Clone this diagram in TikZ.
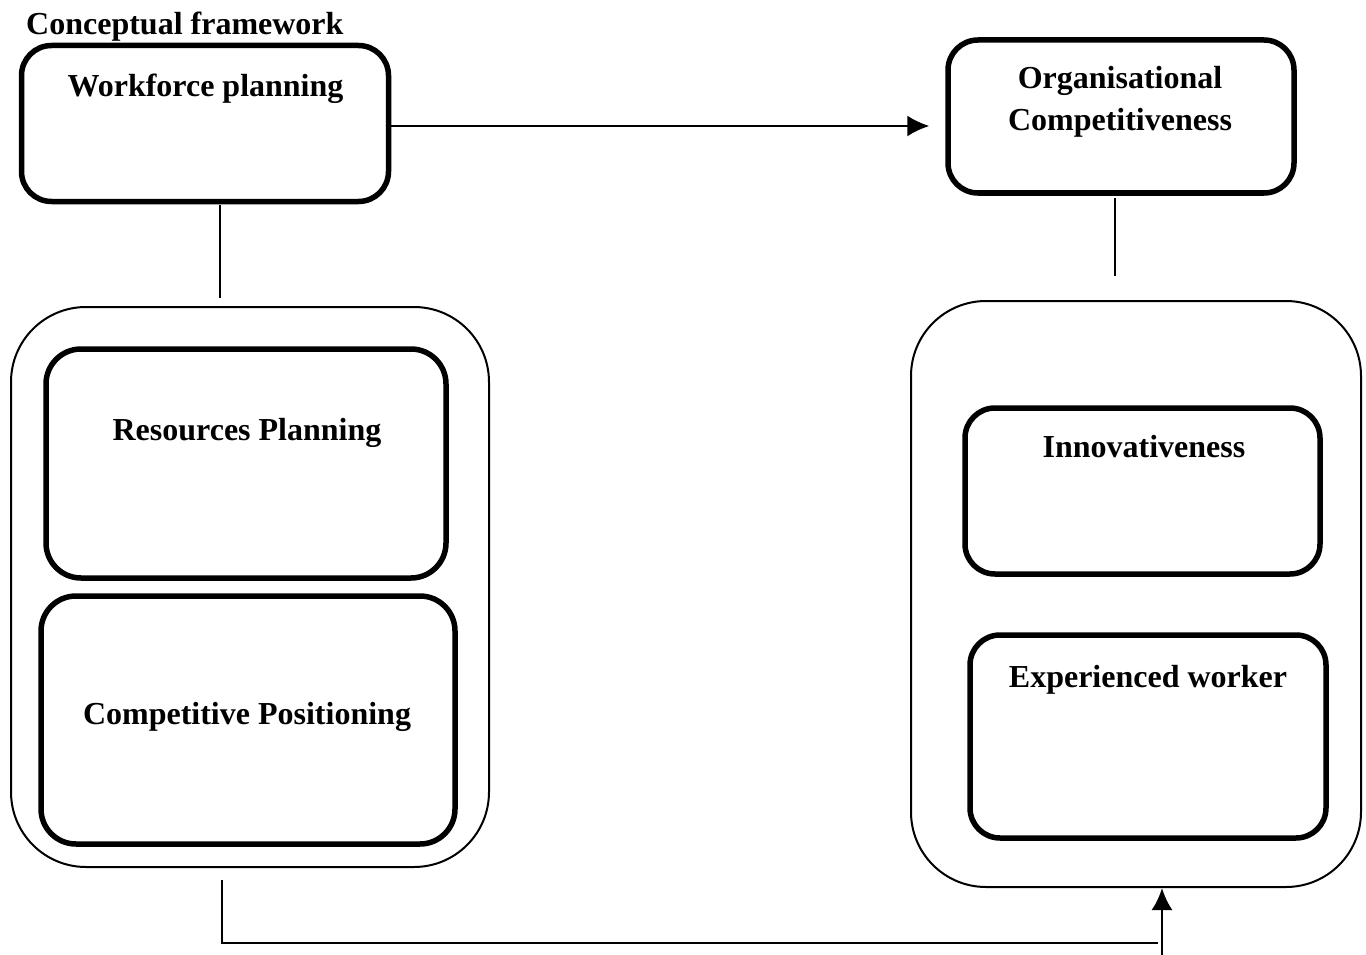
\documentclass[tikz,border=0pt]{standalone}
\usepackage{fontspec}
\setmainfont{Liberation Serif}
\usetikzlibrary{arrows.meta}
\tikzset{
  >={Latex[length=22pt,width=21pt]},
  heavybox/.style={draw, line width=5.5pt, rounded corners=30pt, inner sep=0pt},
  outerbox/.style={draw, line width=2pt, rounded corners=75pt, inner sep=0pt},
  txt/.style={anchor=base, font=\fontsize{32}{38}\selectfont\bfseries, inner sep=0pt}
}

\begin{document}
\begin{tikzpicture}[x=1pt,y=-1pt]
      \useasboundingbox (0,0) rectangle (1366,955);
      \node[txt, anchor=base west] (title) at (26,35) {Conceptual framework};
      \begin{scope}
        \node[heavybox, minimum width=367pt, minimum height=156pt] (wf) at (205,123.5) {};
        \node[heavybox, minimum width=346pt, minimum height=153pt] (org) at (1121,116.5) {};
        \node[outerbox, minimum width=478pt, minimum height=560pt] (lout) at (250,587) {};
        \node[heavybox, rounded corners=35pt, minimum width=400pt, minimum height=229pt] (res) at (246,463.5) {};
        \node[heavybox, rounded corners=35pt, minimum width=414pt, minimum height=248pt] (comp) at (248,720) {};
        \node[outerbox, minimum width=450pt, minimum height=586pt] (rout) at (1136,594) {};
        \node[heavybox, minimum width=355pt, minimum height=166pt] (inno) at (1142.5,491) {};
        \node[heavybox, minimum width=356pt, minimum height=203pt] (exp) at (1148,736.5) {};
      \end{scope}
      \node[txt] (wft) at (205.5,97) {Workforce planning};
      \node[txt] (orgt) at (1120,89) {Organisational};
      \node[txt] (orgt2) at (1120,131) {Competitiveness};
      \node[txt] (rest) at (247,440) {Resources Planning};
      \node[txt] (compt) at (247,724) {Competitive Positioning};
      \node[txt] (innot) at (1144,457) {Innovativeness};
      \node[txt] (expt) at (1148,687) {Experienced worker};
      \coordinate (wfa) at (220,205);
      \coordinate (wfb) at (220,298);
      \coordinate (orga) at (1115,198);
      \coordinate (orgb) at (1115,276);
      \coordinate (ba) at (222,880);
      \coordinate (bb) at (222,943);
      \coordinate (bc) at (1158,943);
      \coordinate (bd) at (1162,955);
      \begin{scope}[line width=1.6pt]
        \draw[->, line width=2pt] ([yshift=-2.5pt]wf.east) -- ([yshift=-2.5pt]wf.east -| org.west) [shorten >=16pt];
        \draw (wfa) -- (wfb);
        \draw (orga) -- (orgb);
        \draw (ba) -- (bb) -- (bc);
        \draw[->, line width=2.6pt] (bd) -- (bd |- rout.south);
      \end{scope}
    \end{tikzpicture}
\end{document}
